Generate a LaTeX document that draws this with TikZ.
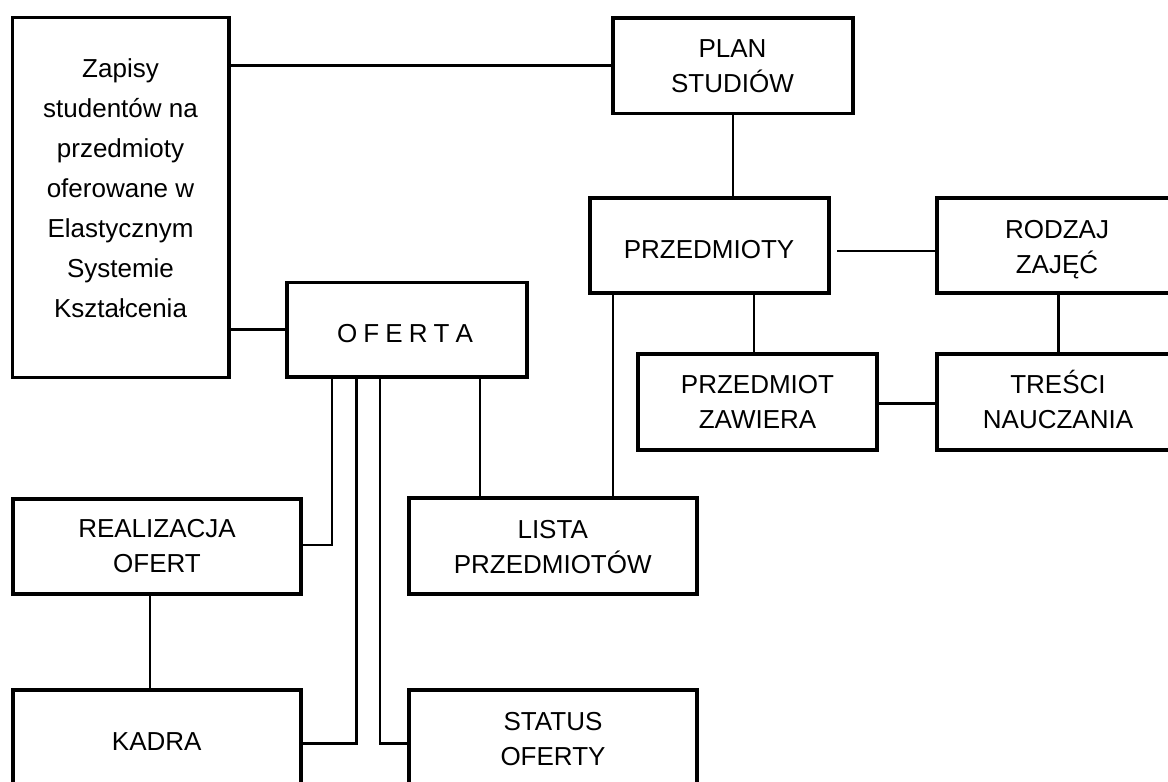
\documentclass[tikz,border=0pt]{standalone}
\usepackage{fontspec}
\setmainfont{Liberation Sans}
\newcommand{\lsp}{\hspace{6.1pt}}
\begin{document}
\begin{tikzpicture}[x=1pt,y=-1pt,
  box/.style={draw, rectangle, line width=3.8pt, inner sep=0pt, outer sep=0pt},
  link/.style={line width=2.2pt},
  txt/.style={align=center, inner sep=0pt, font=\fontsize{26}{35}\selectfont},
]
\useasboundingbox (0,0) rectangle (1168,782);
\clip (0,0) rectangle (1168,782);

% boxes
\node[box, minimum width=216.5pt, minimum height=360pt]  (zapisy)     at (120.75,197.5) {};
\node[box, minimum width=240.3pt, minimum height=95.5pt] (plan)       at (732.85,65.75) {};
\node[box, minimum width=239.6pt, minimum height=95pt]   (przedmioty) at (709.5,245.8) {};
\node[box, minimum width=241.8pt, minimum height=95pt]   (rodzaj)     at (1058.1,245.8) {};
\node[box, minimum width=241.8pt, minimum height=95.5pt] (tresci)     at (1058.1,401.95) {};
\node[box, minimum width=239pt,   minimum height=96pt]   (zawiera)    at (757.3,401.7) {};
\node[box, minimum width=240.3pt, minimum height=94.5pt] (oferta)     at (407.15,329.75) {};
\node[box, minimum width=288pt,   minimum height=95.4pt] (lista)      at (553,546) {};
\node[box, minimum width=288.3pt, minimum height=95pt]   (realizacja) at (157.15,546.2) {};
\node[box, minimum width=288.3pt, minimum height=95pt]   (kadra)      at (157.15,737.8) {};
\node[box, minimum width=288pt,   minimum height=95pt]   (status)     at (553,737.8) {};

% labels
\node[txt, font=\fontsize{26}{40}\selectfont] (zapisy-t) at (120.5,189.5)
  {\strut Zapisy\\\strut studentów na\\\strut przedmioty\\\strut oferowane w\\\strut Elastycznym\\\strut Systemie\\\strut Kształcenia};
\node[txt] (plan-t)       at (732.5,67.5)  {\strut PLAN\\\strut STUDIÓW};
\node[txt] (przedmioty-t) at (709,251)     {\strut PRZEDMIOTY};
\node[txt] (rodzaj-t)     at (1057,248.5)  {\strut RODZAJ\\\strut ZAJĘĆ};
\node[txt] (tresci-t)     at (1058,403.5)  {\strut TREŚCI\\\strut NAUCZANIA};
\node[txt] (zawiera-t)    at (757.5,403.5) {\strut PRZEDMIOT\\\strut ZAWIERA};
\node[txt] (oferta-t)     at (405,335)     {\strut O\lsp F\lsp E\lsp R\lsp T\lsp A};
\node[txt] (realizacja-t) at (157,548)     {\strut REALIZACJA\\\strut OFERT};
\node[txt] (lista-t)      at (552.7,548.5) {\strut LISTA\\\strut PRZEDMIOTÓW};
\node[txt] (kadra-t)      at (156.7,743)   {\strut KADRA};
\node[txt] (status-t)     at (553,740.5)   {\strut STATUS\\\strut OFERTY};

% connectors
\draw[link] (zapisy.east |- 0,65.5) -- (plan.west |- 0,65.5);
\draw[link] (zapisy.east |- 0,329.5) -- (oferta.west |- 0,329.5);
\draw[link] (plan.south -| 733,0) -- (przedmioty.north -| 733,0);
\draw[link, shorten <=7.7pt] (przedmioty.east |- 0,251) -- (rodzaj.west |- 0,251);
\draw[link] (przedmioty.south -| 754.2,0) -- (zawiera.north -| 754.2,0);
\draw[link] (rodzaj.south -| 1058.5,0) -- (tresci.north -| 1058.5,0);
\draw[link] (zawiera.east |- 0,403.5) -- (tresci.west |- 0,403.5);
\draw[link] (przedmioty.south -| 612.7,0) -- (lista.north -| 612.7,0);
\draw[link] (oferta.south -| 480.2,0) -- (lista.north -| 480.2,0);
\draw[link] (oferta.south -| 331.8,0) |- (realizacja.east |- 0,545.2);
\draw[link] (oferta.south -| 356.5,0) |- (kadra.east |- 0,743.5);
\draw[link] (oferta.south -| 380.2,0) |- (status.west |- 0,743.5);
\draw[link] (realizacja.south -| 150.2,0) -- (kadra.north -| 150.2,0);
\end{tikzpicture}
\end{document}
